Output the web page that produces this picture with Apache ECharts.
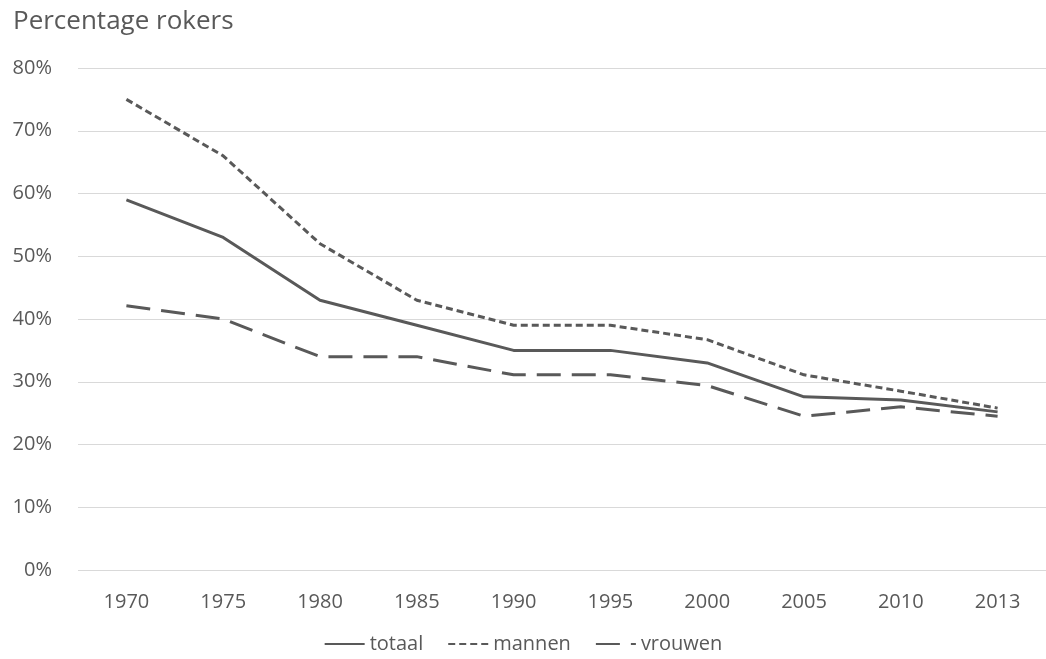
<!DOCTYPE html>
<html><head><meta charset="utf-8">
<script src="https://cdn.jsdelivr.net/npm/echarts@6/dist/echarts.min.js"></script>
<style>html,body{margin:0;padding:0;background:#fff}#c{width:1046px;height:659px}</style>
</head><body><div id="c"></div>
<script>
const categories = ['1970','1975','1980','1985','1990','1995','2000','2005','2010','2013'];
const totaal  = [59.0, 53.0, 43.0, 39.0, 35.0, 35.0, 33.0, 27.6, 27.1, 25.2];
const mannen  = [75.0, 66.0, 52.0, 43.0, 39.0, 39.0, 36.7, 31.1, 28.5, 25.8];
const vrouwen = [42.1, 40.0, 34.0, 34.0, 31.1, 31.1, 29.4, 24.5, 26.0, 24.5];
const col = '#595959';
const font = 'Open Sans';
const chart = echarts.init(document.getElementById('c'));
function mk(name, data, type){
  return {name, type:'line', data, symbol:'none', smooth:false,
    lineStyle:{color:col, width:3, type, cap:'butt'}, itemStyle:{color:col}};
}
chart.setOption({
  animation:false,
  title:{text:'Percentage rokers', left:8, top:4, textStyle:{fontFamily:font, fontSize:26, fontWeight:'normal', color:col}},
  grid:{left:78, right:-7, top:68, bottom:89},
  legend:{bottom:0, left:'center', itemWidth:40, itemHeight:4, itemGap:24,
    itemStyle:{opacity:0},
    textStyle:{fontFamily:font, fontSize:20, color:col},
    data:['totaal','mannen','vrouwen']},
  xAxis:{type:'category', data:categories, boundaryGap:true,
    axisLine:{show:false}, axisTick:{show:false},
    axisLabel:{fontFamily:font, fontSize:20, color:col, margin:22}},
  yAxis:{type:'value', min:0, max:80, interval:10,
    axisLine:{show:false}, axisTick:{show:false},
    splitLine:{lineStyle:{color:'#d9d9d9', width:1}},
    axisLabel:{formatter:'{value}%', fontFamily:font, fontSize:20, color:col, margin:26}},
  series:[mk('totaal', totaal, 'solid'), mk('mannen', mannen, [7,4]), mk('vrouwen', vrouwen, [24,11])]
});
</script></body></html>
